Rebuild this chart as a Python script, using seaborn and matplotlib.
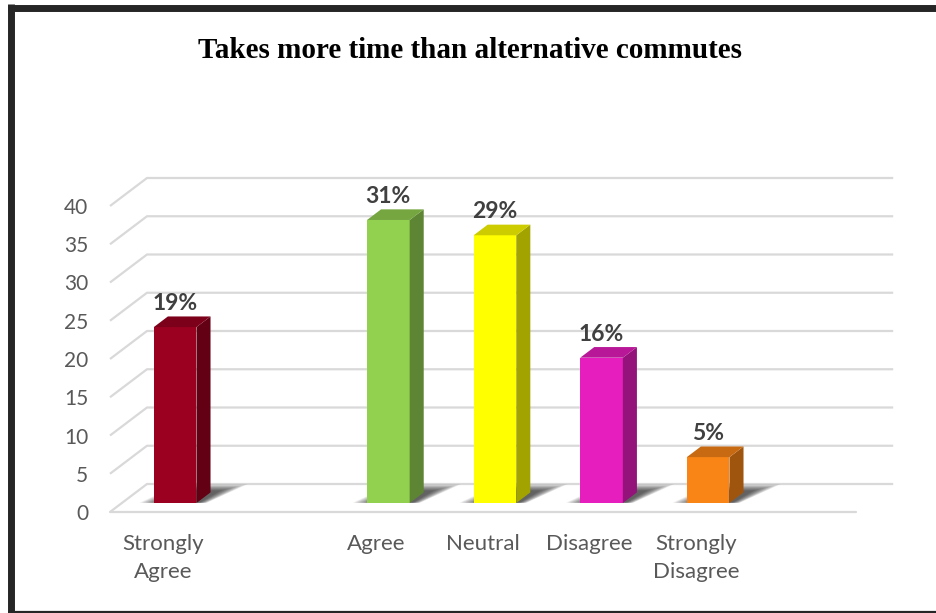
import matplotlib
matplotlib.use("Agg")
import matplotlib.pyplot as plt
import matplotlib.colors as mcolors
from matplotlib.patches import Polygon
from matplotlib.lines import Line2D
import pandas as pd
import seaborn as sns

# ---- data -------------------------------------------------------------
title = "Takes more time than alternative commutes"
categories = ["Strongly\nAgree", "Agree", "Neutral", "Disagree", "Strongly\nDisagree"]
counts = [23, 37, 35, 19, 6]
# category slots along the floor (two empty slots)
slot_order = ["Strongly\nAgree", "", "Agree", "Neutral", "Disagree", "Strongly\nDisagree", " "]
bar_colors = ["#9B0020", "#92D050", "#FFFF00", "#E61EBE", "#FA8517"]
y_ticks = [0, 5, 10, 15, 20, 25, 30, 35, 40]

total = sum(counts)
percent_labels = [f"{round(100 * c / total)}%" for c in counts]

# ---- style ------------------------------------------------------------
sns.set_theme(style="white")
plt.rcParams["font.family"] = ["Lato", "DejaVu Sans"]
TEXT_GREY = "#595959"
GRID = "#d9d9d9"

W, H = 937, 613
fig = plt.figure(figsize=(W / 100, H / 100), dpi=100)
fig.patch.set_facecolor("white")

# axes placed so that one slot ~106.6 px and one unit ~7.65 px
SLOT_PX, UNIT_PX = 106.6, 7.65
ax_l, ax_r, ax_b, ax_t = 105, 900, 516, 170
ax = fig.add_axes([ax_l / W, (H - ax_b) / H, (ax_r - ax_l) / W, (ax_b - ax_t) / H])
XLIM = (-0.5 - (110 - ax_l) / SLOT_PX, -0.5 + (ax_r - 110) / SLOT_PX)
YLIM = (-(ax_b - 512) / UNIT_PX, (512 - ax_t) / UNIT_PX)

# oblique depth projection: full depth shifts right and up
DX = 37 / SLOT_PX
DY = 28 / UNIT_PX
D0, D1 = 0.32, 0.70   # bar depth span


def proj(x, v, d):
    return (x + d * DX, v + d * DY)


# ---- bars ---------------------------------------------------------------
df = pd.DataFrame({"category": categories, "count": counts})
sns.barplot(data=df, x="category", y="count", order=slot_order,
            hue="category", hue_order=categories, palette=bar_colors,
            width=0.4, saturation=1, legend=False, ax=ax)
ax.set_xlim(*XLIM)
ax.set_ylim(*YLIM)

# ---- walls / gridlines -------------------------------------------------
x0, x1 = -0.5, len(slot_order) - 0.5
for v in y_ticks:
    fx, fy = proj(x0, v, 0)
    bx, by = proj(x0, v, 1)
    ex, _ = proj(x1, v, 1)
    ax.add_line(Line2D([fx, bx, ex], [fy, by, by], color=GRID, lw=1.6,
                       zorder=1, solid_capstyle="butt"))
ax.add_line(Line2D([x0, x1], [0, 0], color=GRID, lw=1.6, zorder=1))


def shade(color, f):
    r, g, b = mcolors.to_rgb(color)
    return (r * f, g * f, b * f)


for patch in list(ax.patches):
    x = patch.get_x()
    w = patch.get_width()
    h = patch.get_height()
    fc = patch.get_facecolor()
    slot = int(round(x + w / 2))
    i = categories.index(slot_order[slot])
    xl, xr = x, x + w

    # soft floor shadow, layered from wide/faint to tight/dark
    n_layers = 22
    for k in range(n_layers):
        e = 0.19 * (1 - k / n_layers)
        dback = min(D1 + 0.05 + 0.25 * (1 - k / n_layers), 1.0)
        pts = [proj(xl + 0.05 - e, 0, D0 + 0.01),
               proj(xr + 0.02 + 0.4 * e, 0, D0 + 0.01),
               proj(xr + 0.06 + e, 0, dback),
               proj(xl + 0.12 - e * 0.6, 0, dback)]
        ax.add_patch(Polygon(pts, closed=True, facecolor="black",
                             alpha=0.04, lw=0, zorder=1.5))

    # front face: shift the seaborn bar back to its depth
    fx, fy = proj(xl, 0, D0)
    patch.set_x(fx)
    patch.set_y(fy)
    patch.set_edgecolor("none")
    patch.set_zorder(3)

    side = [proj(xr, 0, D0), proj(xr, 0, D1), proj(xr, h, D1), proj(xr, h, D0)]
    top = [proj(xl, h, D0), proj(xr, h, D0), proj(xr, h, D1), proj(xl, h, D1)]
    ax.add_patch(Polygon(side, closed=True, facecolor=shade(fc, 0.64), lw=0, zorder=3))
    ax.add_patch(Polygon(top, closed=True, facecolor=shade(fc, 0.80), lw=0, zorder=3))

    lx, _ = proj(xl + w / 2, 0, D0)
    _, ly = proj(xl, h, D1)
    ax.annotate(percent_labels[i], xy=(lx, ly), xytext=(0, 4.5),
                textcoords="offset points", ha="center", va="baseline",
                fontsize=16.5, fontweight="bold", color="#404040",
                annotation_clip=False, zorder=4)

# ---- axes text ------------------------------------------------------------
ax.set_yticks(y_ticks)
ax.set_yticklabels([str(t) for t in y_ticks])
ax.tick_params(axis="y", length=0, pad=12, labelsize=15, labelcolor=TEXT_GREY)
ax.tick_params(axis="x", length=0, pad=13, labelsize=16, labelcolor=TEXT_GREY)
for lab in ax.get_xticklabels():
    lab.set_linespacing(1.5)
ax.set_xlabel("")
ax.set_ylabel("")
for s in ax.spines.values():
    s.set_visible(False)
ax.grid(False)
ax.set_facecolor("none")

fig.text(470 / W, 1 - 51 / H, title, ha="center", va="center",
         fontsize=21, fontweight="bold", color="black",
         family=["Liberation Serif", "DejaVu Serif"])

# ---- outer frame ------------------------------------------------------------
FRAME = "#262626"
def fline(xs, ys, lw):
    fig.add_artist(Line2D([x / W for x in xs], [1 - y / H for y in ys],
                          transform=fig.transFigure, color=FRAME, lw=lw,
                          solid_capstyle="butt"))

fline([8, W], [7.5, 7.5], 5.0)
fline([11.5, 11.5], [4, H], 5.0)
fline([8, W], [612, 612], 1.6)

fig.savefig("out.png", dpi=100)
